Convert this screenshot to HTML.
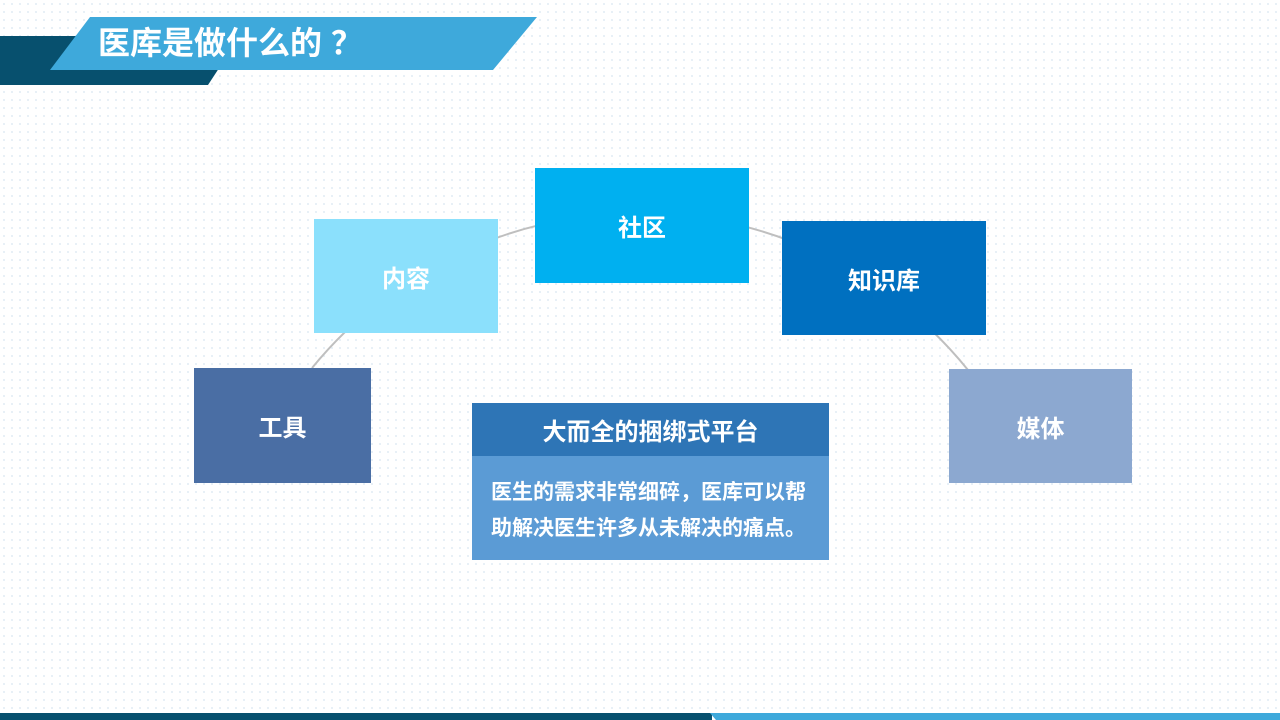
<!DOCTYPE html>
<html><head><meta charset="utf-8"><style>
body{margin:0;width:1280px;height:720px;overflow:hidden;background:#fff;
background-image:radial-gradient(#e6eff6 1px,transparent 1.2px);background-size:8px 8px;
font-family:"Liberation Sans","Noto Sans CJK SC",sans-serif;position:relative}
.b{position:absolute;color:#fff;font-weight:bold;font-size:24px;display:flex;align-items:center;justify-content:center}
</style></head><body>
<svg width="1280" height="720" style="position:absolute;left:0;top:0">
<polygon points="0,36 240,36 208,85 0,85" fill="#07506e"/>
<polygon points="90,17 537,17 493,70 50,70" fill="#3ea9db"/>
<path d="M312,368 A423,423 0 0 1 968,370" fill="none" stroke="#bfbfbf" stroke-width="2"/>
<rect x="0" y="713" width="712" height="7" fill="#07506e"/>
<polygon points="710,713 1280,713 1280,720 716,720" fill="#3ea9db"/>
</svg>
<div style="position:absolute;left:98px;top:20px;height:46px;line-height:46px;color:#fff;font-weight:bold;font-size:32px">医库是做什么的 ？</div>
<div class="b" style="left:535px;top:168px;width:214px;height:115px;background:#00b0f0">社区</div>
<div class="b" style="left:314px;top:219px;width:184px;height:114px;background:#8be0fc">内容</div>
<div class="b" style="left:782px;top:221px;width:204px;height:114px;background:#0070c0">知识库</div>
<div class="b" style="left:194px;top:368px;width:177px;height:115px;background:#4a6ea4">工具</div>
<div class="b" style="left:949px;top:369px;width:183px;height:114px;background:#8ca8d0">媒体</div>
<div class="b" style="left:472px;top:403px;width:357px;height:53px;background:#2e75b6">大而全的捆绑式平台</div>
<div style="position:absolute;left:472px;top:456px;width:357px;height:104px;background:#5b9bd5;color:#fff;font-weight:bold;font-size:21px;line-height:36px;padding:19px 0 0 19px;box-sizing:border-box;white-space:nowrap">医生的需求非常细碎，医库可以帮<br>助解决医生许多从未解决的痛点。</div>
</body></html>
